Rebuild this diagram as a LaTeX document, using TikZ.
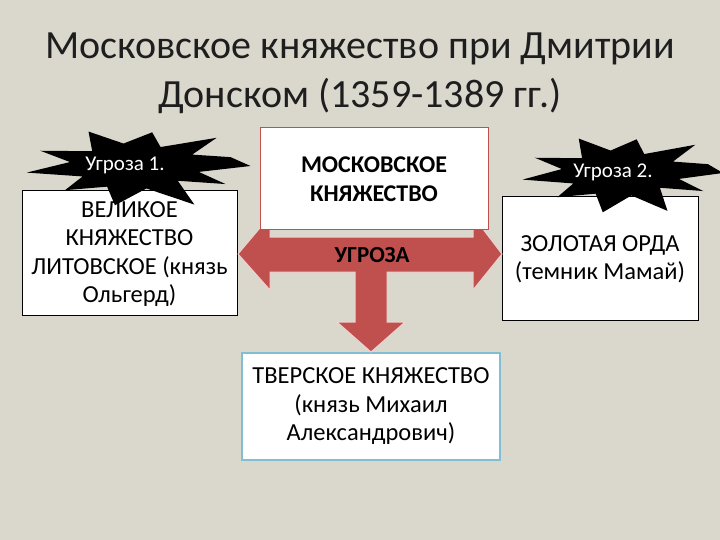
\documentclass[tikz,border=0pt]{standalone}
\usepackage{fontspec}
\setmainfont{Carlito}
\definecolor{bg}{RGB}{218,215,205}
\definecolor{ttl}{RGB}{30,30,30}
\definecolor{arr}{RGB}{192,80,77}
\definecolor{cyanb}{RGB}{130,190,210}
\tikzset{
  box/.style={draw=black,fill=white,line width=1pt,align=center,font=\fontsize{24.5}{28.5}\selectfont,inner sep=0pt},
  startxt/.style={text=white,font=\fontsize{21}{24}\selectfont},
  starfill/.style={fill=black},
}
\begin{document}
\begin{tikzpicture}[x=1pt,y=-1pt]
\fill[bg] (0,0) rectangle (720,540);
\useasboundingbox (0,0) rectangle (720,540);
\node[text=ttl,align=center,font=\fontsize{40}{49}\selectfont] (title) at (360,73) {Московское княжество при Дмитрии\\Донском (1359-1389 гг.)};
% boxes
\node[box,minimum width=215,minimum height=124] (lit) at (129.5,253) {};
\node[box,minimum width=196,minimum height=123] (orda) at (600,258.5) {};
\node[box,draw=cyanb,line width=1.2pt,minimum width=258,minimum height=107] (tver) at (371,406.5) {ТВЕРСКОЕ КНЯЖЕСТВО\\(князь Михаил\\Александрович)};
% arrow
\draw[fill=arr,draw=white!75!arr,line width=1pt] (238,254) -- (270,216) -- (270,237) -- (473,237) -- (473,216) -- (502,254) -- (473,290) -- (473,272) -- (387,272) -- (387,322) -- (405,322) -- (371,352) -- (337,322) -- (355,322) -- (355,272) -- (270,272) -- (270,290) -- cycle;
\node[font=\bfseries\fontsize{23}{26}\selectfont] (ugr) at (372,255) {УГРОЗА};
\node[box,draw=arr,minimum width=228,minimum height=102,font=\bfseries\fontsize{24}{29}\selectfont] (mosk) at (374,179) {МОСКОВСКОЕ\\КНЯЖЕСТВО};
% stars
\begin{scope}[shift={(135,166)},xscale=110,yscale=38]
\fill[starfill] (0:1.05) -- (15:.6) -- (30:.95) -- (45:.55) -- (62:1.15) -- (80:.6) -- (100:1.05) -- (115:.6) -- (135:.9) -- (150:.55) -- (170:1) -- (190:.6) -- (205:.95) -- (225:.55) -- (245:1) -- (260:.6) -- (280:.9) -- (295:.55) -- (315:1.05) -- (330:.6) -- (345:.9) -- cycle;
\end{scope}
\begin{scope}[shift={(621,173)},xscale=100,yscale=38]
\fill[starfill] (0:1.02) -- (15:.6) -- (30:.95) -- (45:.55) -- (65:1.1) -- (80:.6) -- (100:1.05) -- (115:.6) -- (135:.9) -- (150:.55) -- (170:1) -- (190:.6) -- (205:.95) -- (225:.55) -- (245:1) -- (260:.6) -- (280:.9) -- (295:.55) -- (315:1.05) -- (330:.6) -- (345:.9) -- cycle;
\end{scope}
\node[startxt] (u1) at (125,165) {Угроза 1.};
\node[startxt] (u2) at (613,172) {Угроза 2.};
\node[align=center,font=\fontsize{24.5}{28.5}\selectfont] (littxt) at (129.5,254) {ВЕЛИКОЕ\\КНЯЖЕСТВО\\ЛИТОВСКОЕ (князь\\Ольгерд)};
\node[align=center,font=\fontsize{24.5}{28.5}\selectfont] (ordatxt) at (600,259) {ЗОЛОТАЯ ОРДА\\(темник Мамай)};
\end{tikzpicture}
\end{document}
